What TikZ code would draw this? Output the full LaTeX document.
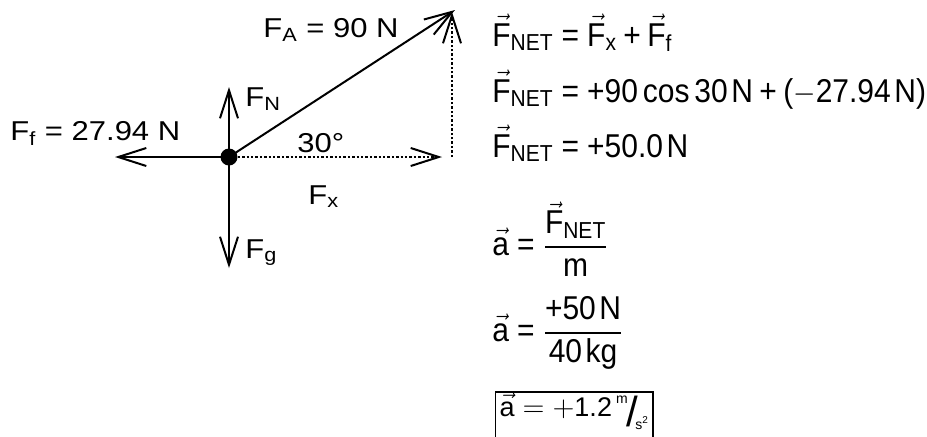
\documentclass[tikz,border=0pt]{standalone}
\usepackage{amsmath}
\usepackage{graphicx}
\usepackage{fontspec}
\setmainfont{Liberation Sans}
\setsansfont{Liberation Sans}
\usetikzlibrary{arrows.meta}
\tikzset{
  px/.style={x=0.5pt, y=-0.5pt},
  force/.style={black, line width=1pt, -{Straight Barb[length=14pt,width=9pt]}},
  comp/.style={black, line width=1pt, dash pattern=on 1.2pt off 1pt, -{Straight Barb[length=14pt,width=9pt]}},
  flabel/.style={font=\fontsize{15.5}{18}\selectfont, inner sep=0pt, anchor=base west},
  eqline/.style={font=\fontsize{15}{18}\selectfont, inner sep=0pt, anchor=base west},
  ansbox/.style={font=\fontsize{13.5}{16}\selectfont, anchor=base west, draw, line width=0.6pt,
    inner xsep=2pt, inner ysep=1pt, text height=11pt, text depth=16pt},
}
\newcommand{\vF}{\vec{\text{F}}}
\newcommand{\va}{\vec{\text{a}}}
\newcommand{\eqs}{\mathrel{\text{=}}}
\newcommand{\pls}{\mathbin{\text{+}}}
\newcommand{\unit}[1]{\kern.12em\text{#1}}
\newcommand{\lowlab}[1]{\scalebox{1}[0.88]{#1}}
\newcommand{\talleq}[1]{\scalebox{1}[1.1]{#1}}

\begin{document}
\begin{tikzpicture}[px]
  \useasboundingbox (0,0) rectangle (927,436);
  % free body diagram
  \node[circle, fill, inner sep=0pt, minimum size=8.5pt] (obj) at (229,157) {};
  \coordinate (fatip) at (455,10);
  \coordinate (fxtip) at (442,157);
  \coordinate (fxend) at (452,157);
  \coordinate (fytip) at (452,12);
  \coordinate (fftip) at (115,157);
  \coordinate (fntip) at (229,87);
  \coordinate (fgtip) at (229,268);
  \draw[force] (obj.center) -- (fatip);
  \draw[force] (obj.center) -- (fftip);
  \draw[force] (obj.center) -- (fntip);
  \draw[force] (obj.center) -- (fgtip);
  \draw[comp] (obj.center) -- (fxtip);
  \draw[comp] (fxend) -- (fytip);
  \node[flabel] (lfa) at (263,37) {\lowlab{F$_{\text{A}}$ = 90 N}};
  \node[flabel] (lff) at (10,140) {\lowlab{F$_{\text{f}}$ = 27.94 N}};
  \node[flabel] (lfn) at (245,106) {\lowlab{F$_{\text{N}}$}};
  \node[flabel] (lfg) at (245,258) {\lowlab{F$_{\text{g}}$}};
  \node[flabel] (lang) at (297,152) {\lowlab{30°}};
  \node[flabel] (lfx) at (308,204) {\lowlab{F$_{\text{x}}$}};
  % working on the right
  \node[eqline] (eqsum) at (492,46) {\talleq{$\vF_{\text{NET}}\eqs\vF_{\text{x}}\pls\vF_{\text{f}}$}};
  \node[eqline] (eqcos) at (492,102) {\talleq{$\vF_{\text{NET}}\eqs{\text{+}}\text{90}\,\text{cos}\,\text{30}\unit{N}\pls\text{(}{-}\text{27.94}\unit{N}\text{)}$}};
  \node[eqline] (eqres) at (492,157) {\talleq{$\vF_{\text{NET}}\eqs{\text{+}}\text{50.0}\unit{N}$}};
  \node[eqline] (eqacc) at (492,255) {\talleq{$\va\eqs\dfrac{\vF_{\text{NET}}}{\text{m}}$}};
  \node[eqline] (eqnum) at (492,341) {\talleq{$\va\eqs\dfrac{{\text{+}}\text{50}\unit{N}}{\text{40}\unit{kg}}$}};
  \node[ansbox] (eqans) at (495,416) {$\va=+\text{1.2}$\kern.15em\raisebox{.85ex}{\scriptsize m}\kern-.05em\raisebox{-.75ex}{\fontsize{21}{21}\selectfont /}\kern-.1em\raisebox{-.95ex}{\scriptsize s\textsuperscript{2}}};
\end{tikzpicture}
\end{document}
